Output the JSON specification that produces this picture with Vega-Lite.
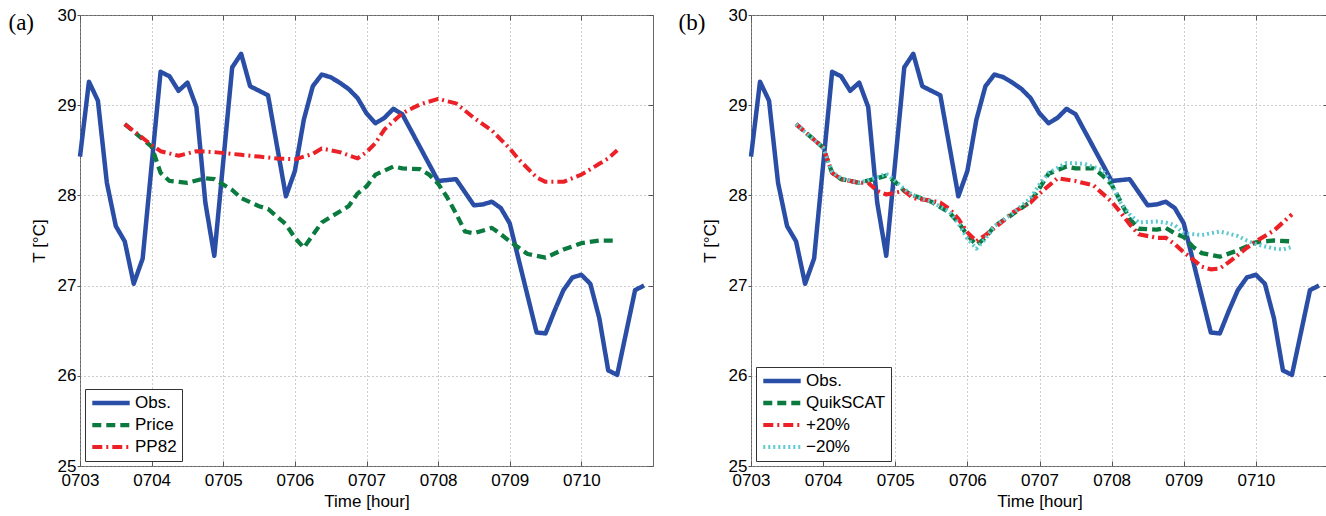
{
 "$schema": "https://vega.github.io/schema/vega-lite/v6.json",
 "padding": {"left": 7, "top": 5, "right": 2, "bottom": 2},
 "datasets": {
  "obs": [
   {"s":"Obs.","t":0,"T":28.43},{"s":"Obs.","t":0.125,"T":29.26},{"s":"Obs.","t":0.25,"T":29.05},{"s":"Obs.","t":0.375,"T":28.14},
   {"s":"Obs.","t":0.5,"T":27.66},{"s":"Obs.","t":0.625,"T":27.49},{"s":"Obs.","t":0.75,"T":27.02},{"s":"Obs.","t":0.875,"T":27.3},
   {"s":"Obs.","t":1.125,"T":29.37},{"s":"Obs.","t":1.25,"T":29.32},{"s":"Obs.","t":1.375,"T":29.16},{"s":"Obs.","t":1.5,"T":29.25},
   {"s":"Obs.","t":1.625,"T":28.98},{"s":"Obs.","t":1.75,"T":27.92},{"s":"Obs.","t":1.875,"T":27.33},{"s":"Obs.","t":2.125,"T":29.42},
   {"s":"Obs.","t":2.25,"T":29.57},{"s":"Obs.","t":2.375,"T":29.21},{"s":"Obs.","t":2.625,"T":29.11},{"s":"Obs.","t":2.875,"T":27.99},
   {"s":"Obs.","t":3.0,"T":28.27},{"s":"Obs.","t":3.125,"T":28.84},{"s":"Obs.","t":3.25,"T":29.21},{"s":"Obs.","t":3.375,"T":29.34},
   {"s":"Obs.","t":3.5,"T":29.31},{"s":"Obs.","t":3.625,"T":29.25},{"s":"Obs.","t":3.75,"T":29.18},{"s":"Obs.","t":3.875,"T":29.08},
   {"s":"Obs.","t":4.0,"T":28.91},{"s":"Obs.","t":4.125,"T":28.8},{"s":"Obs.","t":4.25,"T":28.86},{"s":"Obs.","t":4.375,"T":28.96},
   {"s":"Obs.","t":4.5,"T":28.9},{"s":"Obs.","t":5.0,"T":28.16},{"s":"Obs.","t":5.25,"T":28.18},{"s":"Obs.","t":5.5,"T":27.89},
   {"s":"Obs.","t":5.625,"T":27.9},{"s":"Obs.","t":5.75,"T":27.93},{"s":"Obs.","t":5.875,"T":27.86},{"s":"Obs.","t":6.0,"T":27.69},
   {"s":"Obs.","t":6.375,"T":26.48},{"s":"Obs.","t":6.5,"T":26.47},{"s":"Obs.","t":6.625,"T":26.72},{"s":"Obs.","t":6.75,"T":26.95},
   {"s":"Obs.","t":6.875,"T":27.09},{"s":"Obs.","t":7.0,"T":27.12},{"s":"Obs.","t":7.125,"T":27.02},{"s":"Obs.","t":7.25,"T":26.64},
   {"s":"Obs.","t":7.375,"T":26.06},{"s":"Obs.","t":7.5,"T":26.01},{"s":"Obs.","t":7.625,"T":26.48},{"s":"Obs.","t":7.75,"T":26.95},
   {"s":"Obs.","t":7.875,"T":27.0}
  ],
  "a": [
   {"s":"Price","t":0.625,"T":28.79},{"s":"Price","t":1.0,"T":28.54},{"s":"Price","t":1.125,"T":28.25},{"s":"Price","t":1.25,"T":28.16},
   {"s":"Price","t":1.5,"T":28.14},{"s":"Price","t":1.75,"T":28.19},{"s":"Price","t":1.875,"T":28.18},{"s":"Price","t":2.125,"T":28.06},
   {"s":"Price","t":2.25,"T":27.97},{"s":"Price","t":2.5,"T":27.88},{"s":"Price","t":2.625,"T":27.85},{"s":"Price","t":2.875,"T":27.68},
   {"s":"Price","t":3.0,"T":27.53},{"s":"Price","t":3.125,"T":27.42},{"s":"Price","t":3.25,"T":27.56},{"s":"Price","t":3.375,"T":27.7},
   {"s":"Price","t":3.5,"T":27.76},{"s":"Price","t":3.75,"T":27.88},{"s":"Price","t":3.875,"T":28.02},{"s":"Price","t":4.0,"T":28.1},
   {"s":"Price","t":4.125,"T":28.23},{"s":"Price","t":4.375,"T":28.32},{"s":"Price","t":4.5,"T":28.3},{"s":"Price","t":4.75,"T":28.29},
   {"s":"Price","t":4.875,"T":28.23},{"s":"Price","t":5.0,"T":28.13},{"s":"Price","t":5.125,"T":27.98},{"s":"Price","t":5.25,"T":27.8},
   {"s":"Price","t":5.375,"T":27.6},{"s":"Price","t":5.5,"T":27.58},{"s":"Price","t":5.75,"T":27.64},{"s":"Price","t":5.875,"T":27.57},
   {"s":"Price","t":6.0,"T":27.49},{"s":"Price","t":6.25,"T":27.35},{"s":"Price","t":6.5,"T":27.31},{"s":"Price","t":6.75,"T":27.4},
   {"s":"Price","t":7.0,"T":27.47},{"s":"Price","t":7.25,"T":27.5},{"s":"Price","t":7.5,"T":27.5},
   {"s":"PP82","t":0.625,"T":28.79},{"s":"PP82","t":1.0,"T":28.56},{"s":"PP82","t":1.125,"T":28.49},{"s":"PP82","t":1.375,"T":28.44},
   {"s":"PP82","t":1.625,"T":28.49},{"s":"PP82","t":1.875,"T":28.48},{"s":"PP82","t":2.25,"T":28.45},{"s":"PP82","t":2.5,"T":28.43},
   {"s":"PP82","t":2.75,"T":28.41},{"s":"PP82","t":3.0,"T":28.4},{"s":"PP82","t":3.25,"T":28.46},{"s":"PP82","t":3.375,"T":28.52},
   {"s":"PP82","t":3.625,"T":28.48},{"s":"PP82","t":3.875,"T":28.41},{"s":"PP82","t":4.0,"T":28.48},{"s":"PP82","t":4.125,"T":28.58},
   {"s":"PP82","t":4.25,"T":28.73},{"s":"PP82","t":4.5,"T":28.91},{"s":"PP82","t":4.75,"T":29.01},{"s":"PP82","t":5.0,"T":29.07},
   {"s":"PP82","t":5.25,"T":29.02},{"s":"PP82","t":5.5,"T":28.86},{"s":"PP82","t":5.75,"T":28.72},{"s":"PP82","t":6.0,"T":28.52},
   {"s":"PP82","t":6.125,"T":28.4},{"s":"PP82","t":6.375,"T":28.2},{"s":"PP82","t":6.5,"T":28.15},{"s":"PP82","t":6.75,"T":28.15},
   {"s":"PP82","t":7.0,"T":28.23},{"s":"PP82","t":7.25,"T":28.35},{"s":"PP82","t":7.375,"T":28.41},{"s":"PP82","t":7.5,"T":28.5}
  ],
  "b": [
   {"s":"QuikSCAT","t":0.625,"T":28.79},{"s":"QuikSCAT","t":1.0,"T":28.53},{"s":"QuikSCAT","t":1.125,"T":28.25},{"s":"QuikSCAT","t":1.25,"T":28.18},
   {"s":"QuikSCAT","t":1.5,"T":28.14},{"s":"QuikSCAT","t":1.75,"T":28.19},{"s":"QuikSCAT","t":1.875,"T":28.22},{"s":"QuikSCAT","t":2.0,"T":28.15},
   {"s":"QuikSCAT","t":2.125,"T":28.05},{"s":"QuikSCAT","t":2.25,"T":28.0},{"s":"QuikSCAT","t":2.5,"T":27.93},{"s":"QuikSCAT","t":2.75,"T":27.81},
   {"s":"QuikSCAT","t":2.875,"T":27.7},{"s":"QuikSCAT","t":3.0,"T":27.56},{"s":"QuikSCAT","t":3.125,"T":27.45},{"s":"QuikSCAT","t":3.25,"T":27.53},
   {"s":"QuikSCAT","t":3.375,"T":27.66},{"s":"QuikSCAT","t":3.625,"T":27.79},{"s":"QuikSCAT","t":3.875,"T":27.93},{"s":"QuikSCAT","t":4.0,"T":28.08},
   {"s":"QuikSCAT","t":4.125,"T":28.24},{"s":"QuikSCAT","t":4.375,"T":28.32},{"s":"QuikSCAT","t":4.5,"T":28.3},{"s":"QuikSCAT","t":4.75,"T":28.3},
   {"s":"QuikSCAT","t":4.875,"T":28.22},{"s":"QuikSCAT","t":5.0,"T":28.12},{"s":"QuikSCAT","t":5.125,"T":27.93},{"s":"QuikSCAT","t":5.25,"T":27.74},
   {"s":"QuikSCAT","t":5.375,"T":27.63},{"s":"QuikSCAT","t":5.625,"T":27.62},{"s":"QuikSCAT","t":5.75,"T":27.64},{"s":"QuikSCAT","t":5.875,"T":27.58},
   {"s":"QuikSCAT","t":6.0,"T":27.54},{"s":"QuikSCAT","t":6.125,"T":27.43},{"s":"QuikSCAT","t":6.25,"T":27.36},{"s":"QuikSCAT","t":6.5,"T":27.32},
   {"s":"QuikSCAT","t":6.75,"T":27.39},{"s":"QuikSCAT","t":7.0,"T":27.48},{"s":"QuikSCAT","t":7.25,"T":27.5},{"s":"QuikSCAT","t":7.5,"T":27.49},
   {"s":"+20%","t":0.625,"T":28.79},{"s":"+20%","t":1.0,"T":28.53},{"s":"+20%","t":1.125,"T":28.25},{"s":"+20%","t":1.25,"T":28.18},
   {"s":"+20%","t":1.5,"T":28.14},{"s":"+20%","t":1.625,"T":28.14},{"s":"+20%","t":1.75,"T":28.05},{"s":"+20%","t":1.875,"T":28.01},
   {"s":"+20%","t":2.125,"T":28.05},{"s":"+20%","t":2.25,"T":27.97},{"s":"+20%","t":2.5,"T":27.94},{"s":"+20%","t":2.625,"T":27.92},
   {"s":"+20%","t":2.75,"T":27.85},{"s":"+20%","t":2.875,"T":27.74},{"s":"+20%","t":3.0,"T":27.59},{"s":"+20%","t":3.125,"T":27.49},
   {"s":"+20%","t":3.25,"T":27.56},{"s":"+20%","t":3.5,"T":27.72},{"s":"+20%","t":3.625,"T":27.81},{"s":"+20%","t":3.875,"T":27.92},
   {"s":"+20%","t":4.0,"T":28.02},{"s":"+20%","t":4.25,"T":28.19},{"s":"+20%","t":4.5,"T":28.16},{"s":"+20%","t":4.75,"T":28.11},
   {"s":"+20%","t":4.875,"T":28.02},{"s":"+20%","t":5.0,"T":27.93},{"s":"+20%","t":5.125,"T":27.81},{"s":"+20%","t":5.25,"T":27.68},
   {"s":"+20%","t":5.375,"T":27.57},{"s":"+20%","t":5.625,"T":27.53},{"s":"+20%","t":5.75,"T":27.53},{"s":"+20%","t":5.875,"T":27.46},
   {"s":"+20%","t":6.0,"T":27.37},{"s":"+20%","t":6.25,"T":27.21},{"s":"+20%","t":6.375,"T":27.18},{"s":"+20%","t":6.5,"T":27.19},
   {"s":"+20%","t":6.625,"T":27.26},{"s":"+20%","t":6.875,"T":27.42},{"s":"+20%","t":7.0,"T":27.49},{"s":"+20%","t":7.25,"T":27.61},
   {"s":"+20%","t":7.5,"T":27.79},
   {"s":"−20%","t":0.625,"T":28.79},{"s":"−20%","t":1.0,"T":28.53},{"s":"−20%","t":1.125,"T":28.26},{"s":"−20%","t":1.25,"T":28.19},
   {"s":"−20%","t":1.5,"T":28.14},{"s":"−20%","t":1.75,"T":28.2},{"s":"−20%","t":1.875,"T":28.24},{"s":"−20%","t":2.0,"T":28.16},
   {"s":"−20%","t":2.125,"T":28.07},{"s":"−20%","t":2.25,"T":28.0},{"s":"−20%","t":2.5,"T":27.93},{"s":"−20%","t":2.75,"T":27.82},
   {"s":"−20%","t":2.875,"T":27.69},{"s":"−20%","t":3.0,"T":27.52},{"s":"−20%","t":3.125,"T":27.41},{"s":"−20%","t":3.25,"T":27.52},
   {"s":"−20%","t":3.375,"T":27.66},{"s":"−20%","t":3.625,"T":27.8},{"s":"−20%","t":3.875,"T":27.97},{"s":"−20%","t":4.0,"T":28.12},
   {"s":"−20%","t":4.125,"T":28.25},{"s":"−20%","t":4.375,"T":28.36},{"s":"−20%","t":4.625,"T":28.35},{"s":"−20%","t":4.875,"T":28.28},
   {"s":"−20%","t":5.0,"T":28.13},{"s":"−20%","t":5.125,"T":27.92},{"s":"−20%","t":5.25,"T":27.79},{"s":"−20%","t":5.375,"T":27.7},
   {"s":"−20%","t":5.625,"T":27.71},{"s":"−20%","t":5.75,"T":27.7},{"s":"−20%","t":5.875,"T":27.67},{"s":"−20%","t":6.0,"T":27.58},
   {"s":"−20%","t":6.25,"T":27.56},{"s":"−20%","t":6.5,"T":27.6},{"s":"−20%","t":6.75,"T":27.55},{"s":"−20%","t":6.875,"T":27.5},
   {"s":"−20%","t":7.0,"T":27.46},{"s":"−20%","t":7.25,"T":27.41},{"s":"−20%","t":7.375,"T":27.4},{"s":"−20%","t":7.5,"T":27.43}
  ]
 },
 "config": {
  "font": "Liberation Sans",
  "view": {"stroke": "#666", "strokeWidth": 1},
  "axis": {"labelFontSize": 17, "titleFontSize": 17, "titleFontWeight": "normal", "labelColor": "black", "titleColor": "black",
           "domain": false, "tickColor": "#555", "gridColor": "#9a9a9a", "gridDash": [1, 3], "gridWidth": 1},
  "legend": {"orient": "bottom-left", "offset": 5, "fillColor": "white", "strokeColor": "#333", "padding": 5,
             "symbolType": "stroke", "symbolSize": 1400, "labelFontSize": 17, "labelOffset": 3, "rowPadding": 4, "clipHeight": 18, "labelColor": "black"},
  "line": {"strokeJoin": "round", "strokeCap": "butt"}
 },
 "spacing": 23,
 "resolve": {"scale": {"color": "independent", "strokeDash": "independent", "strokeWidth": "independent"}},
 "hconcat": [
  {
   "width": 573, "height": 451,
   "layer": [
    {"data": {"name": "obs"}, "mark": {"type": "line"},
     "encoding": {
      "x": {"field": "t", "type": "quantitative", "scale": {"domain": [0, 8], "nice": false, "zero": false},
            "axis": {"orient": "bottom", "values": [0,1,2,3,4,5,6,7], "labelExpr": "'07' + (datum.value + 3 < 10 ? '0' : '') + (datum.value + 3)", "labelFlush": false, "labelOverlap": false,
                     "grid": true, "tickSize": -5, "labelPadding": 11, "title": "Time [hour]", "titlePadding": 5}},
      "y": {"field": "T", "type": "quantitative", "scale": {"domain": [25, 30], "nice": false, "zero": false},
            "axis": {"orient": "left", "values": [25,26,27,28,29,30], "grid": true, "tickSize": 3, "labelPadding": 1, "title": "T [°C]", "titlePadding": 9}},
      "color": {"field": "s", "type": "nominal", "title": null, "scale": {"domain": ["Obs.", "Price", "PP82"], "range": ["#2a4ea5", "#0b7a3e", "#ec2027"]}},
      "strokeDash": {"field": "s", "type": "nominal", "title": null, "scale": {"domain": ["Obs.", "Price", "PP82"], "range": [[1, 0], [9, 5], [10, 4, 2, 4]]}},
      "strokeWidth": {"field": "s", "type": "nominal", "title": null, "scale": {"domain": ["Obs.", "Price", "PP82"], "range": [4.5, 4, 3.5]}}
     }},
    {"data": {"name": "a"}, "mark": {"type": "line"},
     "encoding": {
      "x": {"field": "t", "type": "quantitative", "scale": {"domain": [0, 8], "nice": false, "zero": false},
            "axis": {"orient": "top", "values": [0,1,2,3,4,5,6,7], "labels": false, "grid": false, "tickSize": -5,
                     "title": "(a)", "titleFont": "Liberation Serif", "titleFontSize": 23, "titleAlign": "left", "titleAnchor": "start", "titleBaseline": "alphabetic", "titleAngle": 0, "titleX": -72, "titleY": 14}},
      "y": {"field": "T", "type": "quantitative", "scale": {"domain": [25, 30], "nice": false, "zero": false},
            "axis": {"orient": "right", "values": [25,26,27,28,29,30], "labels": false, "grid": false, "tickSize": -5, "title": null}},
      "color": {"field": "s", "type": "nominal", "title": null},
      "strokeDash": {"field": "s", "type": "nominal", "title": null},
      "strokeWidth": {"field": "s", "type": "nominal", "title": null}
     }}
   ],
   "resolve": {"axis": {"x": "independent", "y": "independent"}}
  },
  {
   "width": 577, "height": 451,
   "layer": [
    {"data": {"name": "obs"}, "mark": {"type": "line"},
     "encoding": {
      "x": {"field": "t", "type": "quantitative", "scale": {"domain": [0, 8], "nice": false, "zero": false},
            "axis": {"orient": "bottom", "values": [0,1,2,3,4,5,6,7], "labelExpr": "'07' + (datum.value + 3 < 10 ? '0' : '') + (datum.value + 3)", "labelFlush": false, "labelOverlap": false,
                     "grid": true, "tickSize": -5, "labelPadding": 11, "title": "Time [hour]", "titlePadding": 5}},
      "y": {"field": "T", "type": "quantitative", "scale": {"domain": [25, 30], "nice": false, "zero": false},
            "axis": {"orient": "left", "values": [25,26,27,28,29,30], "grid": true, "tickSize": 3, "labelPadding": 1, "title": "T [°C]", "titlePadding": 9}},
      "color": {"field": "s", "type": "nominal", "title": null, "scale": {"domain": ["Obs.", "QuikSCAT", "+20%", "−20%"], "range": ["#2a4ea5", "#0b7a3e", "#ec2027", "#5ec9cf"]}},
      "strokeDash": {"field": "s", "type": "nominal", "title": null, "scale": {"domain": ["Obs.", "QuikSCAT", "+20%", "−20%"], "range": [[1, 0], [9, 5], [10, 4, 2, 4], [2, 3]]}},
      "strokeWidth": {"field": "s", "type": "nominal", "title": null, "scale": {"domain": ["Obs.", "QuikSCAT", "+20%", "−20%"], "range": [4.5, 4, 3.5, 2.5]}}
     }},
    {"data": {"name": "b"}, "mark": {"type": "line"},
     "encoding": {
      "x": {"field": "t", "type": "quantitative", "scale": {"domain": [0, 8], "nice": false, "zero": false},
            "axis": {"orient": "top", "values": [0,1,2,3,4,5,6,7], "labels": false, "grid": false, "tickSize": -5,
                     "title": "(b)", "titleFont": "Liberation Serif", "titleFontSize": 23, "titleAlign": "left", "titleAnchor": "start", "titleBaseline": "alphabetic", "titleAngle": 0, "titleX": -73, "titleY": 14}},
      "y": {"field": "T", "type": "quantitative", "scale": {"domain": [25, 30], "nice": false, "zero": false},
            "axis": {"orient": "right", "values": [25,26,27,28,29,30], "labels": false, "grid": false, "tickSize": -5, "title": null}},
      "color": {"field": "s", "type": "nominal", "title": null},
      "strokeDash": {"field": "s", "type": "nominal", "title": null},
      "strokeWidth": {"field": "s", "type": "nominal", "title": null}
     }}
   ],
   "resolve": {"axis": {"x": "independent", "y": "independent"}}
  }
 ]
}
